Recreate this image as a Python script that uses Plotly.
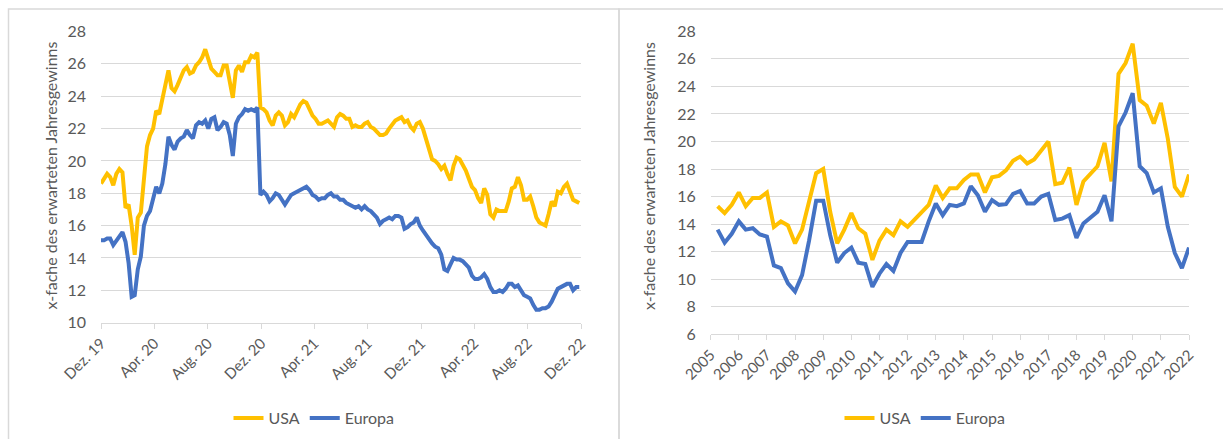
import pandas as pd
import plotly.graph_objects as go

# ---------------- data: left chart (weekly, Dec 2019 - Dec 2022) ----------------
usa_weekly = [
    18.6, 18.9, 19.2, 19.0, 18.5, 19.2, 19.5, 19.3, 17.1, 17.3,
    16.0, 14.2, 16.5, 16.8, 18.8, 20.9, 21.6, 22.0, 23.1, 22.9,
    23.8, 24.6, 25.6, 24.5, 24.3, 24.7, 25.2, 25.6, 25.8, 25.4,
    25.5, 25.9, 26.1, 26.4, 26.9, 26.2, 25.7, 25.5, 25.3, 25.3,
    25.9, 25.9, 25.0, 23.9, 25.6, 25.9, 25.5, 26.1, 26.1, 26.5,
    26.4, 26.7, 23.3, 23.2, 23.0, 22.5, 22.2, 22.8, 23.0, 22.8,
    22.2, 22.4, 22.9, 22.7, 23.1, 23.5, 23.7, 23.6, 23.2, 22.8,
    22.6, 22.3, 22.3, 22.4, 22.5, 22.3, 22.1, 22.7, 22.9, 22.8,
    22.6, 22.6, 22.1, 22.2, 22.1, 22.1, 22.3, 22.4, 22.1, 22.0,
    21.8, 21.6, 21.6, 21.7, 22.0, 22.3, 22.5, 22.6, 22.7, 22.4,
    22.5, 22.1, 21.9, 22.3, 22.4, 22.0, 21.3, 20.8, 20.1, 20.0,
    19.8, 19.5, 19.7, 19.2, 18.8, 19.7, 20.2, 20.1, 19.8, 19.4,
    18.9, 18.4, 18.2, 17.7, 17.4, 18.3, 17.9, 16.7, 16.5, 17.0,
    16.9, 16.9, 16.9, 17.5, 18.3, 18.4, 19.0, 18.5, 17.6, 17.6,
    17.8, 17.2, 16.5, 16.2, 16.1, 16.0, 16.7, 17.5, 17.2, 18.1,
    18.0, 18.4, 18.6, 18.0, 17.6, 17.5, 17.4,
]
europa_weekly = [
    15.1, 15.1, 15.2, 15.2, 14.8, 15.1, 15.4, 15.6, 15.0, 13.7,
    11.6, 11.7, 13.3, 14.1, 16.0, 16.6, 16.9, 17.6, 18.4, 18.0,
    18.6, 19.8, 21.5, 21.0, 20.7, 21.2, 21.4, 21.5, 21.9, 21.6,
    21.4, 22.2, 22.4, 22.3, 22.5, 22.0, 22.6, 22.7, 21.9, 22.1,
    22.4, 22.3, 21.6, 20.3, 22.3, 22.7, 22.9, 23.2, 23.1, 23.2,
    23.1, 23.3, 17.9, 18.1, 17.9, 17.5, 17.7, 18.0, 17.9, 17.6,
    17.3, 17.6, 17.9, 18.0, 18.1, 18.2, 18.3, 18.4, 18.2, 17.9,
    17.8, 17.6, 17.7, 17.7, 17.9, 18.0, 17.8, 17.8, 17.6, 17.6,
    17.4, 17.3, 17.2, 17.1, 17.2, 17.0, 17.2, 17.0, 16.9, 16.7,
    16.5, 16.1, 16.3, 16.4, 16.5, 16.4, 16.6, 16.6, 16.5, 15.8,
    15.9, 16.1, 16.2, 16.5, 16.0, 15.7, 15.4, 15.2, 14.9, 14.7,
    14.6, 14.2, 13.3, 13.2, 13.6, 14.0, 13.9, 13.9, 13.8, 13.6,
    13.4, 12.9, 12.7, 12.7, 12.8, 13.0, 12.7, 12.2, 11.9, 11.9,
    12.0, 11.9, 12.1, 12.4, 12.4, 12.2, 12.3, 12.0, 11.7, 11.6,
    11.5, 11.1, 10.8, 10.8, 10.9, 10.9, 11.0, 11.3, 11.7, 12.1,
    12.2, 12.3, 12.4, 12.4, 12.0, 12.2, 12.2,
]
weekly_start = "2019-12-01"
left_tick_dates = ["2019-12-01", "2020-04-01", "2020-08-01", "2020-12-01", "2021-04-01",
                   "2021-08-01", "2021-12-01", "2022-04-01", "2022-08-01", "2022-12-01"]
left_tick_labels = ["Dez. 19", "Apr. 20", "Aug. 20", "Dez. 20", "Apr. 21",
                    "Aug. 21", "Dez. 21", "Apr. 22", "Aug. 22", "Dez. 22"]

# ---------------- data: right chart (quarterly, 2005 - 2022) ----------------
usa_quarterly = [
    15.3, 14.8, 15.4, 16.3, 15.3, 15.9, 15.9, 16.3, 13.8, 14.2,
    13.9, 12.6, 13.6, 15.6, 17.7, 18.0, 14.9, 12.6, 13.6, 14.8,
    13.7, 13.3, 11.4, 12.8, 13.6, 13.2, 14.2, 13.8, 14.3, 14.8,
    15.4, 16.8, 15.9, 16.6, 16.6, 17.2, 17.6, 17.6, 16.3, 17.4,
    17.5, 17.9, 18.6, 18.9, 18.4, 18.7, 19.4, 20.0, 16.9, 17.0,
    18.1, 15.4, 17.1, 17.7, 18.2, 19.9, 17.1, 24.9, 25.7, 27.1,
    23.0, 22.6, 21.3, 22.8, 20.2, 16.7, 16.0, 17.6,
]
europa_quarterly = [
    13.6, 12.65, 13.3, 14.2, 13.6, 13.7, 13.25, 13.1, 11.0, 10.8,
    9.7, 9.1, 10.3, 12.8, 15.7, 15.7, 13.2, 11.2, 11.9, 12.3,
    11.2, 11.1, 9.45, 10.4, 11.1, 10.6, 11.9, 12.7, 12.7, 12.7,
    14.2, 15.5, 14.65, 15.4, 15.3, 15.5, 16.75, 16.1, 14.9, 15.75,
    15.4, 15.45, 16.2, 16.4, 15.5, 15.5, 16.0, 16.2, 14.3, 14.4,
    14.65, 13.0, 14.05, 14.5, 14.9, 16.1, 14.2, 21.1, 22.1, 23.5,
    18.2, 17.7, 16.3, 16.6, 13.8, 11.9, 10.8, 12.3,
]
quarter_start = "2005-04-01"
right_years = list(range(2005, 2023))

# ---------------- styling ----------------
USA_COLOR = "#FFC000"
EU_COLOR = "#4472C4"
GRID = "#D9D9D9"
TXT = "#595959"
FONT = "Lato"
W, H = 1223, 439
LW = 4

weekly_dates = pd.date_range(weekly_start, periods=len(usa_weekly), freq="7D")
quarter_dates = pd.date_range(quarter_start, periods=len(usa_quarterly), freq="QS")
right_tick_dates = [pd.Timestamp(f"{y}-01-01") for y in right_years]
right_tick_labels = [str(y) for y in right_years]

fig = go.Figure()
fig.add_trace(go.Scatter(x=weekly_dates, y=usa_weekly, name="USA", mode="lines",
                         line=dict(color=USA_COLOR, width=LW), xaxis="x", yaxis="y",
                         legend="legend"))
fig.add_trace(go.Scatter(x=weekly_dates, y=europa_weekly, name="Europa", mode="lines",
                         line=dict(color=EU_COLOR, width=LW), xaxis="x", yaxis="y",
                         legend="legend"))
fig.add_trace(go.Scatter(x=quarter_dates, y=usa_quarterly, name="USA", mode="lines",
                         line=dict(color=USA_COLOR, width=LW), xaxis="x2", yaxis="y2",
                         legend="legend2"))
fig.add_trace(go.Scatter(x=quarter_dates, y=europa_quarterly, name="Europa", mode="lines",
                         line=dict(color=EU_COLOR, width=LW), xaxis="x2", yaxis="y2",
                         legend="legend2"))

def px_x(p):
    return p / W

def px_y(p):
    return 1 - p / H

xcommon = dict(type="date", showgrid=False, showline=True, linecolor=GRID, linewidth=1,
               ticks="outside", ticklen=5, tickcolor=GRID, tickwidth=1, tickangle=-45,
               tickfont=dict(family=FONT, size=15, color=TXT), zeroline=False,
               automargin=False)
ycommon = dict(showgrid=True, gridcolor=GRID, gridwidth=1, zeroline=False, showline=False,
               ticks="", ticklabelstandoff=14, dtick=2, automargin=False,
               tickfont=dict(family=FONT, size=16, color=TXT))

fig.update_layout(
    width=W, height=H,
    autosize=False,
    margin=dict(l=0, r=0, t=0, b=0, pad=0),
    paper_bgcolor="white", plot_bgcolor="white",
    font=dict(family=FONT, color=TXT),
    xaxis=dict(domain=[px_x(101), px_x(581)], anchor="y",
               range=[left_tick_dates[0], left_tick_dates[-1]],
               tickvals=left_tick_dates, ticktext=left_tick_labels, **xcommon),
    yaxis=dict(domain=[px_y(322.7), px_y(31.5)], anchor="x", range=[10, 28], **ycommon),
    xaxis2=dict(domain=[px_x(710.7), px_x(1189)], anchor="y2",
                range=[right_tick_dates[0], right_tick_dates[-1]],
                tickvals=right_tick_dates, ticktext=right_tick_labels, **xcommon),
    yaxis2=dict(domain=[px_y(334.3), px_y(31.3)], anchor="x2", range=[6, 28], **ycommon),
    legend=dict(orientation="h", x=px_x(314), xanchor="center", y=px_y(418), yanchor="middle",
                font=dict(family=FONT, size=16, color=TXT), bgcolor="rgba(0,0,0,0)"),
    legend2=dict(orientation="h", x=px_x(925), xanchor="center", y=px_y(418), yanchor="middle",
                 font=dict(family=FONT, size=16, color=TXT), bgcolor="rgba(0,0,0,0)"),
    showlegend=True,
)

# y-axis titles
for cx in (38, 648):
    fig.add_annotation(text="x-fache des erwarteten Jahresgewinns", textangle=-90,
                       x=px_x(cx), y=px_y(176), xref="paper", yref="paper",
                       showarrow=False, font=dict(family=FONT, size=16, color=TXT))

# panel borders
fig.add_shape(type="rect", xref="paper", yref="paper",
              x0=px_x(8.5), x1=px_x(619), y0=px_y(445), y1=px_y(9),
              line=dict(color=GRID, width=1.5))
fig.add_shape(type="rect", xref="paper", yref="paper",
              x0=px_x(619), x1=px_x(1230), y0=px_y(445), y1=px_y(9),
              line=dict(color=GRID, width=1.5))

fig.write_html("out.html")
